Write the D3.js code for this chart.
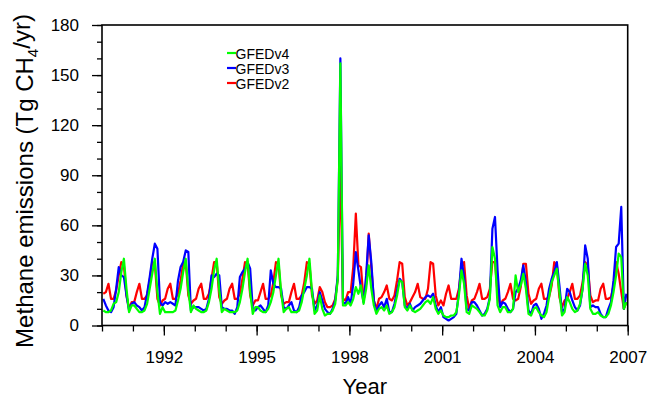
<!DOCTYPE html>
<html>
<head>
<meta charset="utf-8">
<script src="https://cdn.jsdelivr.net/npm/d3@7"></script>
<style>
  html, body { margin: 0; padding: 0; background: #fff; }
  svg { display: block; font-family: "Liberation Sans", Arial, Helvetica, sans-serif; }
</style>
</head>
<body>
<div id="root"></div>
<script>
const startYear = 1990;
const endYear = 2007;
const majorYears = [1992, 1995, 1998, 2001, 2004, 2007];
const yMajorTicks = [0, 30, 60, 90, 120, 150, 180];

// monthly values, Jan..Dec for each year 1990-2006
const gfed4 = [
	9, 8, 8, 9, 13, 14, 20, 32, 40, 22, 8, 12,      // 1990
	12, 10, 8, 8, 9, 13, 22, 31, 40, 20, 7, 11,     // 1991
	8, 8, 8, 8, 9, 15, 22, 32, 40, 21, 8, 12,       // 1992
	10, 9, 8, 8, 9, 14, 22, 33, 40, 21, 8, 10,      // 1993
	9, 8, 8, 8, 9, 14, 22, 32, 40, 20, 7, 11,       // 1994
	11, 9, 8, 8, 10, 14, 20, 30, 40, 20, 8, 10,     // 1995
	11, 8, 8, 8, 9, 14, 22, 30, 40, 20, 7, 9,       // 1996
	18, 10, 6, 7, 7, 9, 13, 28, 157, 12, 12, 14,    // 1997
	12, 16, 23, 19, 24, 13, 22, 36, 22, 12, 7, 10,  // 1998
	11, 9, 12, 7, 8, 11, 18, 27, 26, 11, 9, 12,     // 1999
	9, 8, 9, 10, 12, 14, 15, 13, 17, 10, 7, 9,      // 2000
	6, 5, 5, 6, 6, 8, 18, 33, 25, 8, 7, 12,         // 2001
	11, 10, 8, 6, 6, 9, 16, 47, 40, 12, 8, 11,      // 2002
	11, 8, 8, 10, 30, 20, 24, 31, 22, 7, 6, 10,     // 2003
	11, 8, 6, 5, 8, 17, 26, 30, 34, 20, 6, 8,       // 2004
	17, 14, 10, 8, 9, 13, 22, 37, 30, 10, 7, 7,     // 2005
	8, 6, 5, 5, 7, 12, 20, 30, 43, 41, 10, 14       // 2006
];

const gfed3 = [
	16, 12, 9, 8, 11, 22, 35, 30, 29, 18, 9, 13,    // 1990
	14, 12, 11, 9, 11, 19, 29, 40, 49, 46, 14, 12,  // 1991
	14, 13, 14, 13, 12, 27, 35, 38, 45, 44, 9, 11,  // 1992
	11, 11, 10, 9, 10, 16, 30, 29, 31, 30, 11, 10,  // 1993
	10, 9, 9, 7, 11, 29, 32, 34, 38, 34, 10, 9,     // 1994
	11, 12, 10, 8, 12, 33, 25, 23, 23, 22, 11, 10,  // 1995
	12, 14, 9, 8, 11, 18, 20, 23, 23, 22, 9, 12,    // 1996
	20, 15, 10, 8, 7, 10, 15, 30, 160, 14, 13, 17,  // 1997
	13, 25, 44, 33, 22, 14, 30, 54, 38, 15, 8, 12,  // 1998
	14, 11, 16, 8, 8, 13, 21, 28, 26, 12, 10, 13,   // 1999
	9, 11, 12, 13, 15, 17, 18, 17, 19, 12, 8, 11,   // 2000
	5, 4, 3, 4, 5, 7, 20, 40, 29, 10, 9, 14,        // 2001
	14, 12, 9, 6, 7, 10, 17, 58, 65, 33, 11, 14,    // 2002
	13, 10, 8, 10, 20, 22, 27, 36, 26, 9, 7, 12,    // 2003
	13, 10, 4, 7, 12, 22, 28, 32, 38, 24, 8, 10,    // 2004
	22, 20, 15, 11, 9, 12, 22, 48, 40, 11, 12, 11,  // 2005
	11, 7, 5, 5, 10, 14, 27, 47, 49, 71, 10, 19     // 2006
];

const gfed2 = [
	19, 20, 25, 16, 16, 21, 30, 38, 36, 18, 10, 14, // 1990
	14, 20, 25, 16, 16, 18, 27, 38, 37, 16, 12, 15, // 1991
	16, 22, 25, 16, 16, 19, 27, 37, 38, 18, 13, 15, // 1992
	16, 22, 25, 16, 16, 19, 28, 38, 38, 17, 13, 15, // 1993
	16, 22, 25, 16, 16, 19, 28, 38, 37, 18, 12, 15, // 1994
	15, 20, 25, 16, 16, 18, 26, 38, 37, 18, 13, 14, // 1995
	14, 20, 25, 16, 16, 18, 26, 38, 37, 18, 13, 15, // 1996
	23, 20, 14, 11, 11, 12, 16, 28, 95, 16, 15, 20, // 1997
	20, 35, 67, 36, 35, 15, 25, 55, 35, 15, 10, 16, // 1998
	17, 20, 24, 16, 15, 18, 27, 38, 37, 17, 12, 14, // 1999
	17, 20, 25, 17, 16, 16, 22, 38, 37, 18, 12, 15, // 2000
	12, 19, 24, 16, 16, 16, 22, 35, 38, 18, 10, 15, // 2001
	16, 20, 25, 16, 16, 17, 22, 38, 38, 19, 12, 15, // 2002
	16, 20, 25, 16, 15, 16, 23, 37, 37, 19, 13, 15, // 2003
	16, 22, 25, 16, 16, 17, 24, 38, 36, 17, 11, 15, // 2004
	16, 20, 25, 16, 16, 18, 26, 38, 36, 18, 14, 15, // 2005
	15, 22, 25, 16, 16, 17, 24, 38, 31, 20, 10, 14  // 2006
];

const seriesNames = ["GFEDv4", "GFEDv3", "GFEDv2"];
const seriesColors = ["#00ff00", "#0000ff", "#ff0000"];
const seriesValues = [gfed4, gfed3, gfed2];

const width = 649, height = 399;
const plot = { left: 102, right: 627.7, top: 25, bottom: 325.5 };

const svg = d3.select("#root").append("svg")
	.attr("width", width)
	.attr("height", height);

const x = d3.scaleLinear().domain([startYear, endYear]).range([plot.left, plot.right]);
const y = d3.scaleLinear().domain([0, 180]).range([plot.bottom, plot.top]);

// x axis: minor ticks every year, major ticks with labels
const minorYears = d3.range(startYear, endYear + 1);
svg.append("g")
	.attr("transform", `translate(0,${plot.bottom})`)
	.call(d3.axisBottom(x).tickValues(minorYears).tickSize(6).tickFormat(""))
	.call(g => g.select(".domain").remove());
svg.append("g")
	.attr("transform", `translate(0,${plot.bottom})`)
	.call(d3.axisBottom(x).tickValues(majorYears).tickSize(10).tickPadding(15).tickFormat(d3.format("d")))
	.call(g => g.select(".domain").remove())
	.call(g => g.selectAll("text").style("font-size", "17px").attr("fill", "#000").style("font-family", "inherit"));

// y axis
svg.append("g")
	.attr("transform", `translate(${plot.left},0)`)
	.call(d3.axisLeft(y).tickValues(d3.range(0, 181, 10)).tickSize(5).tickFormat(""))
	.call(g => g.select(".domain").remove());
svg.append("g")
	.attr("transform", `translate(${plot.left},0)`)
	.call(d3.axisLeft(y).tickValues(yMajorTicks).tickSize(10).tickPadding(13))
	.call(g => g.select(".domain").remove())
	.call(g => g.selectAll("text").style("font-size", "17px").attr("fill", "#000").style("font-family", "inherit"));

svg.selectAll(".tick line").attr("stroke", "#000").attr("stroke-width", 1.3);

// data lines (red first, green on top)
const line = d3.line()
	.x((d, i) => x(startYear + (i + 0.5) / 12))
	.y(d => y(d));

[2, 1, 0].forEach(k => {
	svg.append("path")
		.datum(seriesValues[k])
		.attr("d", line)
		.attr("fill", "none")
		.attr("stroke", seriesColors[k])
		.attr("stroke-width", 2.2)
		.attr("stroke-linejoin", "round");
});

// frame
svg.append("rect")
	.attr("x", plot.left).attr("y", plot.top)
	.attr("width", plot.right - plot.left)
	.attr("height", plot.bottom - plot.top)
	.attr("fill", "none")
	.attr("stroke", "#000")
	.attr("stroke-width", 1.6);

// legend
const legend = svg.append("g").attr("transform", "translate(227,53)");
seriesNames.forEach((name, i) => {
	legend.append("line")
		.attr("x1", 0).attr("x2", 9)
		.attr("y1", i * 15).attr("y2", i * 15)
		.attr("stroke", seriesColors[i])
		.attr("stroke-width", 2.2);
	legend.append("text")
		.attr("x", 8.5)
		.attr("y", i * 15 + 5.5)
		.style("font-size", "14px")
		.text(name);
});

// axis titles
svg.append("text")
	.attr("x", (plot.left + plot.right) / 2)
	.attr("y", 394)
	.attr("text-anchor", "middle")
	.style("font-size", "22px")
	.text("Year");

const yTitle = svg.append("text")
	.attr("transform", "translate(33,181) rotate(-90)")
	.attr("text-anchor", "middle")
	.style("font-size", "24px");
yTitle.append("tspan").text("Methane emissions (Tg CH");
yTitle.append("tspan").attr("dy", "0.3em").style("font-size", "15px").text("4");
yTitle.append("tspan").attr("dy", "-0.3em").text("/yr)");
</script>
</body>
</html>
